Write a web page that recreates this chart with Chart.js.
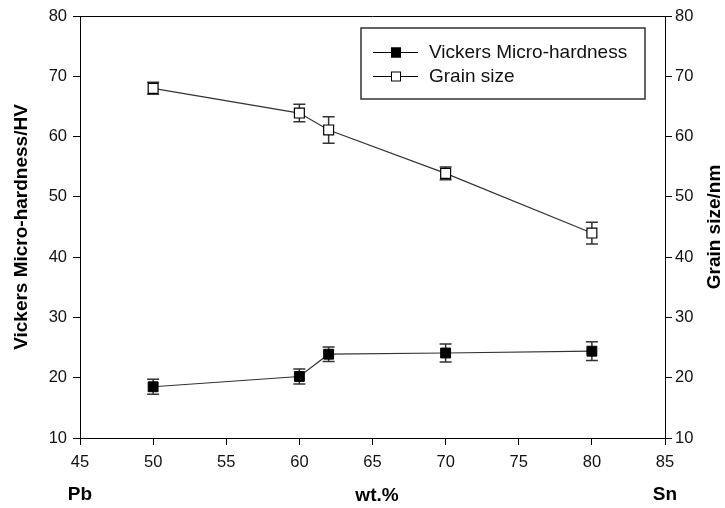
<!DOCTYPE html>
<html lang="en">
<head>
    <meta charset="UTF-8">
    <title>Vickers Micro-hardness and Grain size</title>
    <script src="https://cdn.jsdelivr.net/npm/chart.js"></script>
    <style>
        * {
            margin: 0;
            padding: 0;
            box-sizing: border-box;
        }

        body {
            background: white;
            width: 725px;
            height: 508px;
            overflow: hidden;
        }
    </style>
</head>
<body>
    <canvas id="hvChart" width="725" height="508"></canvas>

    <script>
        // composition (wt.% Sn)
        const wt = [50, 60, 62, 70, 80];
        // Vickers micro-hardness (HV) and its error
        const hardness = [18.5, 20.2, 23.9, 24.1, 24.4];
        const hardnessErr = [1.25, 1.25, 1.2, 1.5, 1.55];
        // grain size (nm) and its error
        const grain = [68, 63.9, 61.1, 53.9, 44];
        const grainErr = [1.0, 1.45, 2.2, 1.05, 1.8];

        const xTicks = [45, 50, 55, 60, 65, 70, 75, 80, 85];
        const yTicks = [10, 20, 30, 40, 50, 60, 70, 80];

        const FONT = "'Liberation Sans', Arial, sans-serif";
        const INK = '#111';

        // error bars, drawn under the markers
        const errorBars = {
            id: 'errorBars',
            beforeDatasetsDraw(chart) {
                const ctx = chart.ctx;
                const x = chart.scales.x;
                const sets = [
                    { vals: hardness, err: hardnessErr, scale: chart.scales.y },
                    { vals: grain, err: grainErr, scale: chart.scales.y1 }
                ];
                ctx.save();
                ctx.strokeStyle = '#333';
                ctx.lineWidth = 1.5;
                sets.forEach(s => {
                    s.vals.forEach((v, i) => {
                        const px = x.getPixelForValue(wt[i]);
                        const top = s.scale.getPixelForValue(v + s.err[i]);
                        const bot = s.scale.getPixelForValue(v - s.err[i]);
                        ctx.beginPath();
                        ctx.moveTo(px, top);
                        ctx.lineTo(px, bot);
                        ctx.moveTo(px - 6, top);
                        ctx.lineTo(px + 6, top);
                        ctx.moveTo(px - 6, bot);
                        ctx.lineTo(px + 6, bot);
                        ctx.stroke();
                    });
                });
                ctx.restore();
            }
        };

        // frame top, legend box and the outer labels
        const extras = {
            id: 'extras',
            afterDraw(chart) {
                const ctx = chart.ctx;
                const a = chart.chartArea;
                ctx.save();

                ctx.strokeStyle = '#000';
                ctx.lineWidth = 1;
                ctx.beginPath();
                ctx.moveTo(a.left, a.top + 0.5);
                ctx.lineTo(a.right, a.top + 0.5);
                ctx.stroke();

                // legend
                ctx.strokeStyle = '#333';
                ctx.lineWidth = 1.5;
                ctx.strokeRect(361, 28, 284, 71);
                const rows = [
                    { y: 52, text: 'Vickers Micro-hardness', fill: '#000' },
                    { y: 76, text: 'Grain size', fill: '#fff' }
                ];
                rows.forEach(r => {
                    ctx.strokeStyle = '#000';
                    ctx.lineWidth = 1;
                    ctx.beginPath();
                    ctx.moveTo(373, r.y + 0.5);
                    ctx.lineTo(418, r.y + 0.5);
                    ctx.stroke();
                    ctx.fillStyle = r.fill;
                    ctx.fillRect(391, r.y - 4.5, 10, 10);
                    ctx.strokeRect(391.5, r.y - 4, 9, 9);
                    ctx.fillStyle = INK;
                    ctx.font = '19px ' + FONT;
                    ctx.textAlign = 'left';
                    ctx.textBaseline = 'middle';
                    ctx.fillText(r.text, 429, r.y + 1);
                });

                // axis titles
                ctx.fillStyle = '#000';
                ctx.font = 'bold 19px ' + FONT;
                ctx.textAlign = 'center';
                ctx.textBaseline = 'middle';
                const midY = (a.top + a.bottom) / 2;
                [[22, 'Vickers Micro-hardness/HV'], [715, 'Grain size/nm']].forEach(([tx, t]) => {
                    ctx.save();
                    ctx.translate(tx, midY);
                    ctx.rotate(-Math.PI / 2);
                    ctx.fillText(t, 0, 0);
                    ctx.restore();
                });
                ctx.fillText('Pb', 80, 495);
                ctx.fillText('wt.%', 377, 496);
                ctx.fillText('Sn', 665, 495);

                ctx.restore();
            }
        };

        const tickFont = { family: FONT, size: 16.5 };
        const axisGrid = { drawOnChartArea: false, tickLength: 7, color: '#000', tickColor: '#000' };

        new Chart(document.getElementById('hvChart'), {
            type: 'line',
            data: {
                datasets: [{
                    label: 'Vickers Micro-hardness',
                    data: wt.map((w, i) => ({ x: w, y: hardness[i] })),
                    yAxisID: 'y',
                    borderColor: '#333',
                    borderWidth: 1.2,
                    pointStyle: 'rect',
                    pointRadius: 7,
                    pointBackgroundColor: '#000',
                    pointBorderColor: '#000',
                    pointBorderWidth: 1,
                    tension: 0
                }, {
                    label: 'Grain size',
                    data: wt.map((w, i) => ({ x: w, y: grain[i] })),
                    yAxisID: 'y1',
                    borderColor: '#333',
                    borderWidth: 1.2,
                    pointStyle: 'rect',
                    pointRadius: 7,
                    pointBackgroundColor: '#fff',
                    pointBorderColor: '#000',
                    pointBorderWidth: 1.2,
                    tension: 0
                }]
            },
            options: {
                responsive: false,
                animation: false,
                layout: { padding: { top: 16, left: 0, right: 0, bottom: 0 } },
                plugins: {
                    legend: { display: false },
                    tooltip: { enabled: false }
                },
                scales: {
                    x: {
                        type: 'linear',
                        min: 45,
                        max: 85,
                        afterBuildTicks: s => { s.ticks = xTicks.map(v => ({ value: v })); },
                        afterFit: s => { s.height = 70; },
                        ticks: { font: tickFont, color: INK, padding: 8, maxRotation: 0 },
                        grid: axisGrid,
                        border: { color: '#000', width: 1 }
                    },
                    y: {
                        position: 'left',
                        min: 10,
                        max: 80,
                        afterBuildTicks: s => { s.ticks = yTicks.map(v => ({ value: v })); },
                        afterFit: s => { s.width = 80; },
                        ticks: { font: tickFont, color: INK, padding: 6 },
                        grid: axisGrid,
                        border: { color: '#000', width: 1 }
                    },
                    y1: {
                        position: 'right',
                        min: 10,
                        max: 80,
                        afterBuildTicks: s => { s.ticks = yTicks.map(v => ({ value: v })); },
                        afterFit: s => { s.width = 60; },
                        ticks: { font: tickFont, color: INK, padding: 3 },
                        grid: axisGrid,
                        border: { color: '#000', width: 1 }
                    }
                }
            },
            plugins: [errorBars, extras]
        });
    </script>
</body>
</html>
